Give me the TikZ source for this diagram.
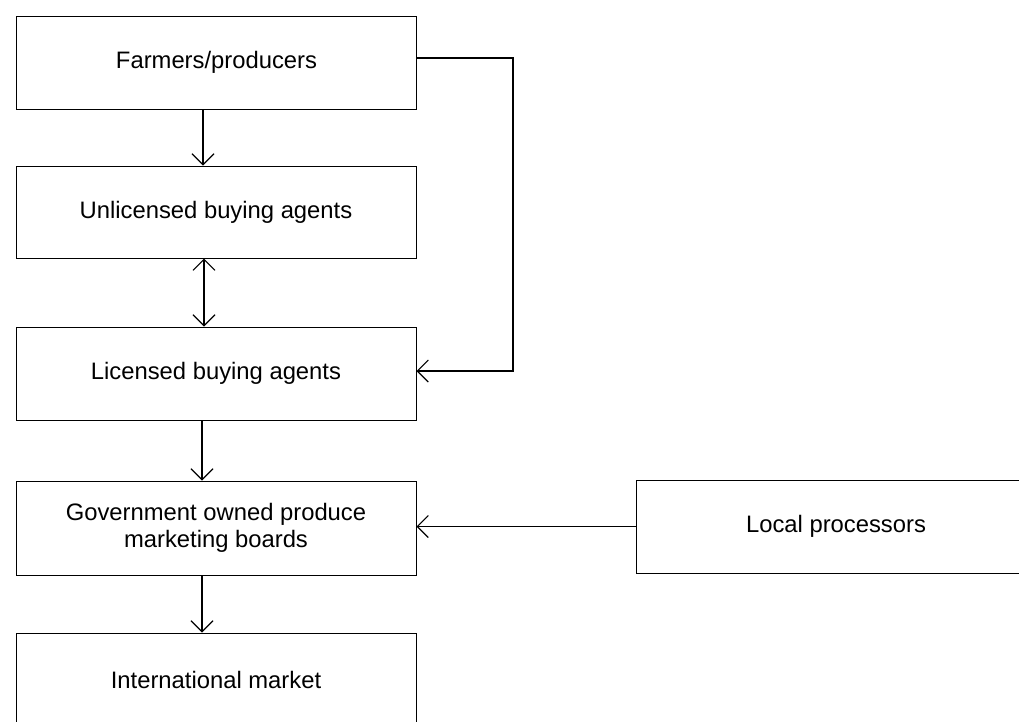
\documentclass[tikz,border=0pt]{standalone}
\usepackage{fontspec}
\setmainfont{Liberation Sans}
\usetikzlibrary{arrows.meta}
\begin{document}
\begin{tikzpicture}[x=1pt,y=-1pt,
  boxnode/.style={draw, line width=1pt, minimum width=400pt, minimum height=93pt,
    inner sep=0pt, align=center, font=\fontsize{23.8}{26.5}\selectfont},
  conn/.style={line width=1.2pt, -{Straight Barb[length=11pt,width=22pt,line width=1.1pt]}},
  bconn/.style={line width=1.2pt, {Straight Barb[length=11pt,width=22pt,line width=1.1pt]}-{Straight Barb[length=11pt,width=22pt,line width=1.1pt]}}
]
\useasboundingbox (0,0) rectangle (1019,721);
\clip (0,0) rectangle (1019,721);

\node[boxnode] (farm)  at (216.5,62.5) {Farmers/producers};
\node[boxnode] (unlic) at (216,212) [minimum height=92pt] {Unlicensed buying agents};
\node[boxnode] (lic)   at (216,373.5) {Licensed buying agents};
\node[boxnode] (gov)   at (216,528) [minimum height=94pt] {Government owned produce\\marketing boards};
\node[boxnode] (intl)  at (216,679.5) {International market};
\node[boxnode] (local) at (836,526.5) {Local processors};

\draw[conn] ([xshift=-13.5pt]farm.south) -- ([xshift=-13pt]unlic.north);
\draw[bconn] ([xshift=-12pt]unlic.south) -- ([xshift=-12pt]lic.north);
\draw[conn] ([xshift=-14pt]lic.south) -- ([xshift=-14pt]gov.north);
\draw[conn] ([xshift=-14pt]gov.south) -- ([xshift=-14pt]intl.north);
\draw[conn] ([yshift=4.5pt]farm.east) -- ++(96,0) |- ([yshift=2.5pt]lic.east);
\draw[conn] (local.west) -- (gov.east |- local.west);
\end{tikzpicture}
\end{document}
